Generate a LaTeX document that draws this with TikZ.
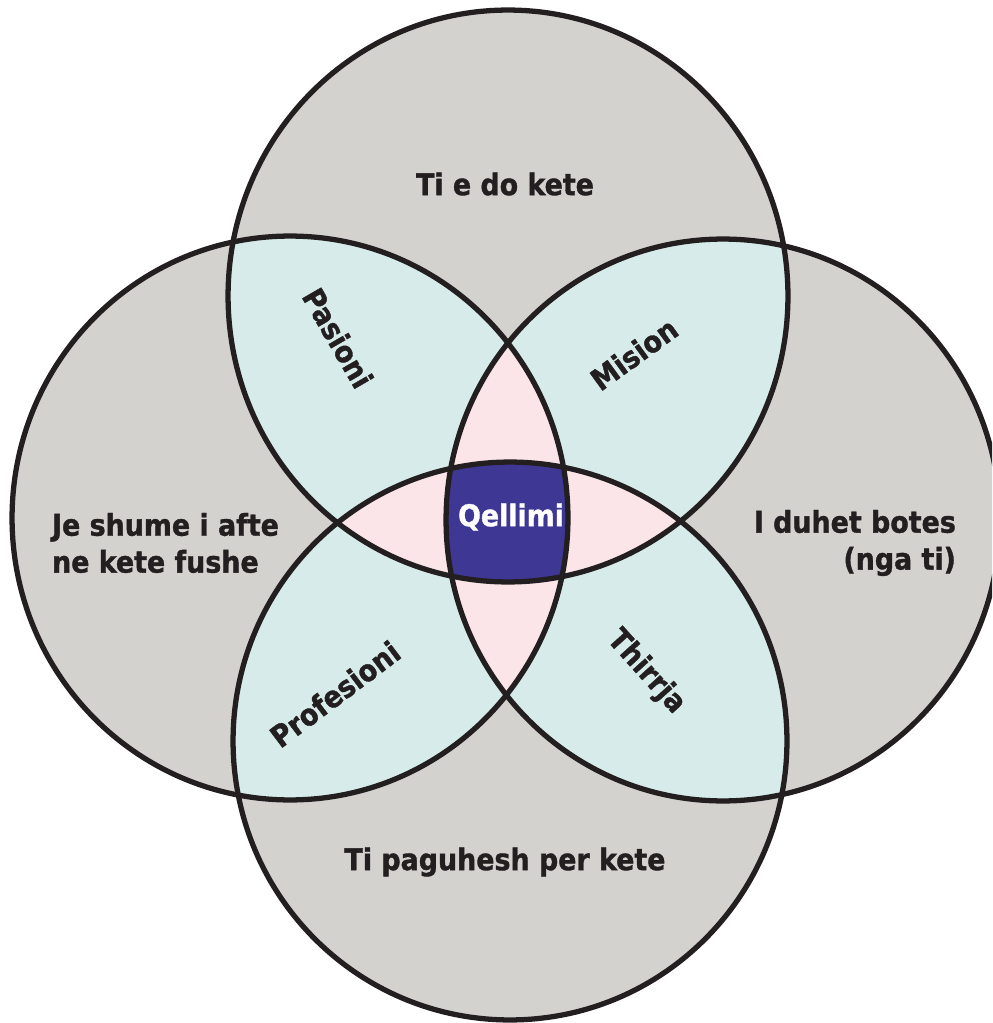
\documentclass[tikz,border=0pt]{standalone}
\usepackage{fontspec}
\usepackage{tikz}
\newfontfamily\ikfont[FakeBold=1.2]{DejaVu Sans Condensed Bold}
\definecolor{ikline} {RGB}{ 35, 31, 32}
\definecolor{ikgray} {RGB}{212,210,207}
\definecolor{ikteal} {RGB}{215,236,234}
\definecolor{ikpink} {RGB}{252,229,233}
\definecolor{ikcore} {RGB}{ 62, 56,148}
\tikzset{
  ring/.style={draw=ikline,line width=3pt},
  grayzone/.style={fill=ikgray},
  tealzone/.style={fill=ikteal},
  pinkzone/.style={fill=ikpink},
  corezone/.style={fill=ikcore},
  lbl/.style={font=\ikfont\fontsize{17}{21}\selectfont,text=ikline,
              inner sep=1pt},
  lblw/.style={lbl,text=white},
}
% the four rings (pixel grid, y downwards)
\newcommand{\ringT}{(508,296) ellipse[x radius=5.60cm,y radius=5.72cm]}
\newcommand{\ringB}{(510,741) ellipse[x radius=5.54cm,y radius=5.58cm]}
\newcommand{\ringL}{(290,518) ellipse[x radius=5.56cm,y radius=5.64cm]}
\newcommand{\ringR}{(723,520) ellipse[x radius=5.54cm,y radius=5.62cm]}

\begin{document}
\begin{tikzpicture}[x=0.02cm,y=-0.02cm]
  \useasboundingbox (0,0) rectangle (992,1023);
  \clip (0,0) rectangle (992,1023);

  % outer zones
  \fill[grayzone] \ringT;
  \fill[grayzone] \ringB;
  \fill[grayzone] \ringL;
  \fill[grayzone] \ringR;

  % two rings
  \begin{scope}\clip \ringT; \fill[tealzone] \ringL; \fill[tealzone] \ringR; \end{scope}
  \begin{scope}\clip \ringB; \fill[tealzone] \ringL; \fill[tealzone] \ringR; \end{scope}

  % three rings
  \begin{scope}\clip \ringL; \clip \ringR; \fill[pinkzone] \ringT; \fill[pinkzone] \ringB; \end{scope}
  \begin{scope}\clip \ringT; \clip \ringB; \fill[pinkzone] \ringL; \fill[pinkzone] \ringR; \end{scope}

  % all four
  \begin{scope}\clip \ringT; \clip \ringB; \clip \ringL; \fill[corezone] \ringR; \end{scope}

  \draw[ring] \ringT;
  \draw[ring] \ringB;
  \draw[ring] \ringL;
  \draw[ring] \ringR;

  \node[lbl] (love)  at (505,184) {Ti e do kete};
  \node[lbl] (paid)  at (505,862) {Ti paguhesh per kete};
  \node[lbl,anchor=west,align=left]  (good)  at (50,543)  {Je shume i afte\\ne kete fushe};
  \node[lbl,anchor=east,align=right] (needs) at (958,543) {I duhet botes\\(nga ti)};

  \node[lbl,rotate=-60] (pasion) at (338,338) {Pasioni};
  \node[lbl,rotate=36]  (mision) at (634,354) {Mision};
  \node[lbl,rotate=37]  (prof)   at (335,694) {Profesioni};
  \node[lbl,rotate=-48] (thirr)  at (646,672) {Thirrja};

  \node[lblw] (qell) at (511,517) {Qellimi};
\end{tikzpicture}
\end{document}
